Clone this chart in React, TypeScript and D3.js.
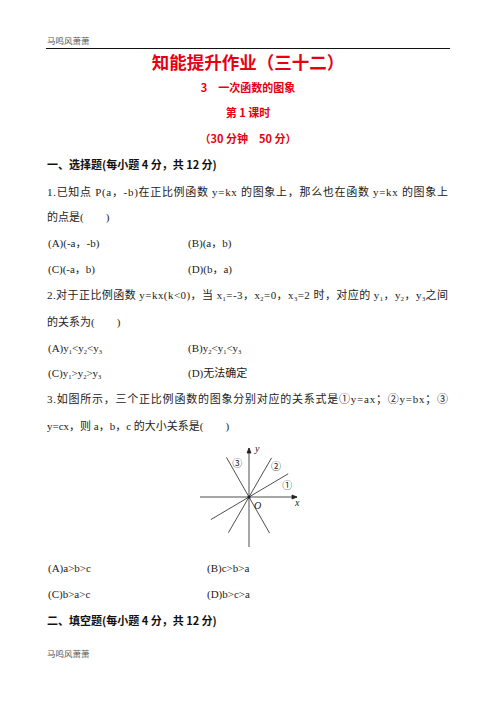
import { useEffect } from "react";
import * as d3 from "d3";

// page text lines; "_n" marks a subscript
const headerText = "马鸣风萧萧";
const titleLines = ["知能提升作业（三十二）", "3　一次函数的图象", "第 1 课时", "（30 分钟　50 分）"];
const titleY = [69, 92, 117, 143];
const titleSize = [17.5, 11, 11, 11];

const section1 = "一、选择题(每小题 4 分，共 12 分)";
const section2 = "二、填空题(每小题 4 分，共 12 分)";

const q1 = ["1.已知点 P(a，-b)在正比例函数 y=kx 的图象上，那么也在函数 y=kx 的图象上", "的点是(　　)"];
const q1Options = ["(A)(-a，-b)", "(B)(a，b)", "(C)(-a，b)", "(D)(b，a)"];
const q2 = ["2.对于正比例函数 y=kx(k<0)，当 x_1=-3，x_2=0，x_3=2 时，对应的 y_1，y_2，y_3之间", "的关系为(　　)"];
const q2Options = ["(A)y_1<y_2<y_3", "(B)y_2<y_1<y_3", "(C)y_1>y_2>y_3", "(D)无法确定"];
const q3 = ["3.如图所示，三个正比例函数的图象分别对应的关系式是①y=ax；②y=bx；③", "y=cx，则 a，b，c 的大小关系是(　　)"];
const q3Options = ["(A)a>b>c", "(B)c>b>a", "(C)b>a>c", "(D)b>c>a"];

// figure: three lines through origin
const lineNames = ["①", "②", "③"];
const slopes = [0.58, 1.7, -1.72];
const xStart = [-0.78, -0.42, -0.46];
const xEnd = [0.8, 0.46, 0.42];
const labelPos: [number, number][] = [
  [0.78, 0.26],
  [0.55, 0.64],
  [-0.24, 0.7],
];

const FONT = "'Liberation Serif', 'Noto Sans CJK SC', serif";
const BOLD = "'Noto Sans CJK SC', sans-serif";
const RED = "#e60012";

// turn "x_1" into x with a small lowered 1
function withSubs(t: string) {
  const parts = t.split(/_(\d)/);
  return parts.map((p, i) =>
    i % 2 === 1 ? (
      <tspan key={i} fontSize={6.5} dy={2}>
        {p}
      </tspan>
    ) : i > 0 ? (
      <tspan key={i} dy={-2}>
        {p}
      </tspan>
    ) : (
      <tspan key={i}>{p}</tspan>
    ),
  );
}

export default function App() {
  useEffect(() => {
    document.body.style.margin = "0";
  }, []);

  const x = d3.scaleLinear().domain([-1, 1]).range([200, 298]);
  const y = d3.scaleLinear().domain([-1, 1]).range([547, 447]);
  const line = d3
    .line<[number, number]>()
    .x((d) => x(d[0]))
    .y((d) => y(d[1]));

  const fs = 11;
  const body = (t: string, px: number, py: number, w?: number) => (
    <text
      x={px}
      y={py}
      fontFamily={FONT}
      fontSize={fs}
      fill="#222"
      {...(w ? { textLength: w, lengthAdjust: "spacing" } : {})}
    >
      {withSubs(t)}
    </text>
  );

  return (
    <svg width={496} height={702} style={{ display: "block", background: "#fff" }}>
      <rect width={496} height={702} fill="#fff" />
      <text x={47} y={44} fontFamily={FONT} fontSize={8.5} fill="#555">
        {headerText}
      </text>
      <line x1={46} x2={450} y1={48.5} y2={48.5} stroke="#111" strokeWidth={1} />

      {titleLines.map((t, i) => (
        <text
          key={t}
          x={248}
          y={titleY[i]}
          textAnchor="middle"
          fontFamily={BOLD}
          fontWeight="bold"
          fontSize={titleSize[i]}
          fill={RED}
        >
          {t}
        </text>
      ))}

      <text x={47} y={169} fontFamily={BOLD} fontWeight="bold" fontSize={11} fill="#111">
        {section1}
      </text>

      {body(q1[0], 47, 196, 401)}
      {body(q1[1], 47, 221)}
      {body(q1Options[0], 48, 247)}
      {body(q1Options[1], 188, 247)}
      {body(q1Options[2], 48, 273)}
      {body(q1Options[3], 188, 273)}

      {body(q2[0], 47, 299, 401)}
      {body(q2[1], 47, 326)}
      {body(q2Options[0], 48, 352)}
      {body(q2Options[1], 188, 352)}
      {body(q2Options[2], 48, 377)}
      {body(q2Options[3], 188, 377)}

      {body(q3[0], 47, 403, 401)}
      {body(q3[1], 47, 430)}

      {/* figure */}
      <g stroke="#222" strokeWidth={0.8} fill="none">
        <line x1={x(-1)} x2={x(0.98)} y1={y(0)} y2={y(0)} />
        <line x1={x(0)} x2={x(0)} y1={y(-1)} y2={y(0.98)} />
        <path d={`M${x(0.98)},${y(0)} l-5,-2 l0,4 z`} fill="#222" />
        <path d={`M${x(0)},${y(0.98)} l-2,5 l4,0 z`} fill="#222" />
        {slopes.map((k, i) => (
          <path
            key={i}
            d={line([
              [xStart[i], k * xStart[i]],
              [xEnd[i], k * xEnd[i]],
            ]) ?? ""}
          />
        ))}
      </g>
      <circle cx={x(0)} cy={y(0)} r={1.6} fill="#222" />
      <text x={x(0.12)} y={y(0.9)} fontFamily="'Liberation Serif', serif" fontStyle="italic" fontSize={10} fill="#222">
        y
      </text>
      <text x={x(0.94)} y={y(-0.18)} fontFamily="'Liberation Serif', serif" fontStyle="italic" fontSize={10} fill="#222">
        x
      </text>
      <text x={x(0.1)} y={y(-0.24)} fontFamily="'Liberation Serif', serif" fontStyle="italic" fontSize={10} fill="#222">
        O
      </text>
      {lineNames.map((n, i) => (
        <text
          key={n}
          x={x(labelPos[i][0])}
          y={y(labelPos[i][1])}
          textAnchor="middle"
          dominantBaseline="central"
          fontFamily={BOLD}
          fontSize={10}
          fill="#222"
        >
          {n}
        </text>
      ))}

      {body(q3Options[0], 48, 572)}
      {body(q3Options[1], 207, 572)}
      {body(q3Options[2], 48, 598)}
      {body(q3Options[3], 207, 598)}

      <text x={47} y={625} fontFamily={BOLD} fontWeight="bold" fontSize={11} fill="#111">
        {section2}
      </text>

      <text x={47} y={657} fontFamily={FONT} fontSize={8.5} fill="#555">
        {headerText}
      </text>
    </svg>
  );
}
